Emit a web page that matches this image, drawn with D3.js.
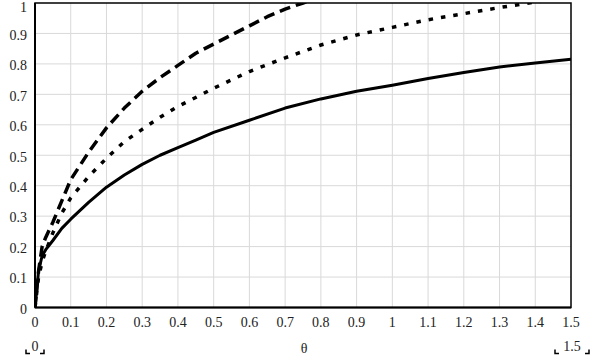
<!DOCTYPE html>
<html>
<head>
<meta charset="utf-8">
<script src="https://cdn.jsdelivr.net/npm/d3@7"></script>
<style>
  body { margin: 0; background: #fff; }
</style>
</head>
<body>
<svg id="chart" width="595" height="356"></svg>
<script>
// values
const thetaSolid = [0, 0.01, 0.02, 0.03, 0.05, 0.075, 0.1, 0.15, 0.2, 0.25, 0.3, 0.35, 0.4, 0.45, 0.5, 0.6, 0.7, 0.8, 0.9, 1.0, 1.1, 1.2, 1.3, 1.4, 1.5];
const solidValues = [0, 0.12, 0.17, 0.19, 0.22, 0.26, 0.29, 0.345, 0.395, 0.435, 0.47, 0.50, 0.525, 0.55, 0.575, 0.615, 0.655, 0.685, 0.71, 0.73, 0.752, 0.772, 0.79, 0.803, 0.815];

const thetaDashed = [0, 0.01, 0.02, 0.03, 0.05, 0.075, 0.1, 0.15, 0.2, 0.25, 0.3, 0.35, 0.4, 0.45, 0.5, 0.55, 0.6, 0.65, 0.7, 0.75, 0.8, 0.9, 1.0];
const dashedValues = [0, 0.12, 0.2, 0.23, 0.28, 0.35, 0.42, 0.51, 0.59, 0.655, 0.71, 0.755, 0.795, 0.835, 0.865, 0.895, 0.925, 0.955, 0.98, 1.0, 1.02, 1.06, 1.1];

const thetaDotted = [0, 0.01, 0.02, 0.03, 0.05, 0.075, 0.1, 0.15, 0.2, 0.25, 0.3, 0.35, 0.4, 0.5, 0.6, 0.7, 0.8, 0.9, 1.0, 1.1, 1.2, 1.3, 1.4, 1.5];
const dottedValues = [0, 0.1, 0.15, 0.185, 0.245, 0.31, 0.36, 0.43, 0.49, 0.545, 0.585, 0.625, 0.66, 0.72, 0.775, 0.82, 0.862, 0.895, 0.92, 0.945, 0.965, 0.985, 1.003, 1.02];

const xTicks = [0, 0.1, 0.2, 0.3, 0.4, 0.5, 0.6, 0.7, 0.8, 0.9, 1, 1.1, 1.2, 1.3, 1.4, 1.5];
const yTicks = [0, 0.1, 0.2, 0.3, 0.4, 0.5, 0.6, 0.7, 0.8, 0.9, 1];
const xTitle = "θ";

const fontFamily = "'Times New Roman', 'Liberation Serif', Tinos, 'DejaVu Serif', 'Noto Serif', serif";

const svg = d3.select("#chart");
const margins = {top: 3, right: 24, bottom: 48.5, left: 35};
const width = 595 - margins.left - margins.right,
      height = 356 - margins.top - margins.bottom;

const x = d3.scaleLinear().domain([0, 1.5]).range([0, width]);
const y = d3.scaleLinear().domain([0, 1]).range([height, 0]);

const g = svg.append("g")
  .attr("transform", "translate(" + margins.left + "," + margins.top + ")")
  .attr("font-family", fontFamily);

g.append("clipPath").attr("id", "plot")
  .append("rect").attr("width", width).attr("height", height);

// grid
g.append("g").selectAll("line").data(xTicks.slice(1, -1)).enter().append("line")
  .attr("x1", x).attr("x2", x).attr("y1", 0).attr("y2", height)
  .attr("stroke", "#d9d9d9").attr("stroke-width", 1);
g.append("g").selectAll("line").data(yTicks.slice(1, -1)).enter().append("line")
  .attr("y1", y).attr("y2", y).attr("x1", 0).attr("x2", width)
  .attr("stroke", "#d9d9d9").attr("stroke-width", 1);

// series
const line = d3.line().x(d => x(d[0])).y(d => y(d[1]));
const series = [
  {t: thetaSolid, v: solidValues, dash: null, w: 3},
  {t: thetaDotted, v: dottedValues, dash: "4.5,8", w: 3.5},
  {t: thetaDashed, v: dashedValues, dash: "11,6", w: 3.5}
];
g.append("g").attr("clip-path", "url(#plot)")
  .selectAll("path").data(series).enter().append("path")
  .attr("d", s => line(s.t.map((t, i) => [t, s.v[i]])))
  .attr("fill", "none")
  .attr("stroke", "#000")
  .attr("stroke-width", s => s.w)
  .attr("stroke-dasharray", s => s.dash)
  .attr("stroke-linejoin", "round");

// frame
g.append("rect").attr("width", width).attr("height", height)
  .attr("fill", "none").attr("stroke", "#000").attr("stroke-width", 1.5);
g.append("line").attr("x1", 0).attr("x2", width).attr("y1", height).attr("y2", height)
  .attr("stroke", "#000").attr("stroke-width", 2);
g.append("line").attr("x1", 0).attr("x2", 0).attr("y1", 0).attr("y2", height)
  .attr("stroke", "#000").attr("stroke-width", 2);

// tick labels
g.append("g").selectAll("text").data(xTicks).enter().append("text")
  .attr("x", x).attr("y", height + 19)
  .attr("text-anchor", "middle")
  .attr("font-size", 14)
  .attr("fill", "#222")
  .text(d => d);
g.append("g").selectAll("text").data(yTicks).enter().append("text")
  .attr("x", -8).attr("y", d => Math.max(y(d), 3)).attr("dy", "0.45em")
  .attr("text-anchor", "end")
  .attr("font-size", 14)
  .attr("fill", "#222")
  .text(d => d);

// axis title
g.append("text")
  .attr("x", x(0.75) + 1).attr("y", height + 45)
  .attr("text-anchor", "middle")
  .attr("font-size", 14)
  .attr("fill", "#222")
  .text(xTitle);

// range end markers under the axis
const ends = g.append("g").selectAll("g").data(x.domain()).enter().append("g")
  .attr("transform", d => "translate(" + (x(d) + (d === 0 ? 0 : 1)) + "," + (height + 46) + ")");
ends.append("text")
  .attr("y", -3)
  .attr("text-anchor", "middle")
  .attr("font-size", 14)
  .attr("fill", "#222")
  .text(d => d);
ends.append("path")
  .attr("d", d => {
    const half = d === 0 ? 9 : 17;
    return "M" + (-half) + ",-4V0h4M" + half + ",-4V0h-4";
  })
  .attr("fill", "none")
  .attr("stroke", "#000")
  .attr("stroke-width", 1.5);
</script>
</body>
</html>
